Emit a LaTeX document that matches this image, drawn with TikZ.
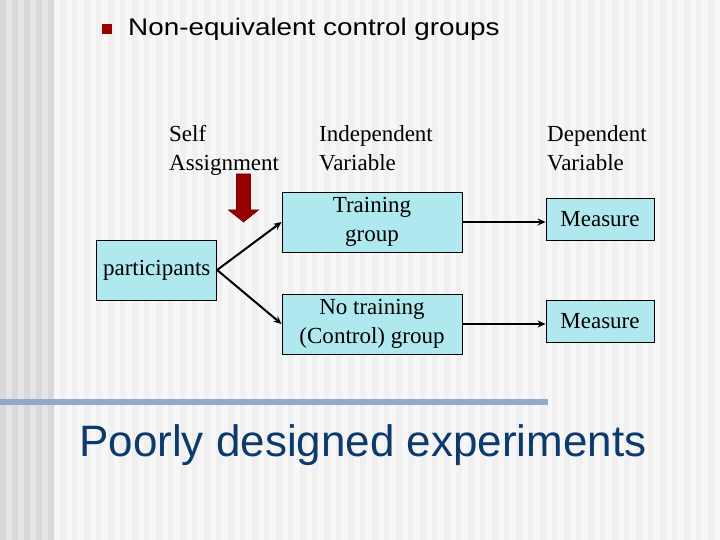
\documentclass[tikz,border=0pt]{standalone}
\usepackage{graphicx}
\usepackage{fontspec}
\setmainfont{Liberation Serif}
\newfontfamily\arialfont{Liberation Sans}
\usetikzlibrary{arrows.meta}
\definecolor{boxcyan}{HTML}{B0E8F0}
\definecolor{darkred}{HTML}{990000}
\definecolor{navy}{HTML}{0D3A6C}
\definecolor{rulecol}{HTML}{92AAC6}
\begin{document}
\begin{tikzpicture}[x=1pt,y=-1pt,>={Stealth[length=8pt,width=7pt]},
	box/.style={draw=black,line width=0.8pt,fill=boxcyan,inner sep=0pt,align=center,font=\fontsize{23}{29}\selectfont},
	head/.style={anchor=north west,inner sep=0pt,align=left,font=\fontsize{23}{29}\selectfont},
	link/.style={->,line width=2pt}]
	\useasboundingbox (0,0) rectangle (720,540);
	% slide background
	\fill[white!94!black] (0,0) rectangle (720,540);
	\foreach \x in {54,66,...,714} \fill[white!97!black] (\x,0) rectangle ++(6,540);
	\foreach \x in {0,12,...,48} \fill[white!85!black] (\x,0) rectangle ++(6,540);
	\foreach \x in {6,18,...,42} \fill[white!90!black] (\x,0) rectangle ++(6,540);
	% title
	\fill[darkred] (102,24) rectangle (112,34);
	\node[anchor=base west,inner sep=0pt,font=\arialfont\fontsize{24}{28}\selectfont] (title) at (128,36) {\scalebox{1.16}[1]{Non-equivalent control groups}};
	% column heads
	\node[head] (self) at (169,125) {Self\\Assignment};
	\node[head] (indep) at (319,125) {Independent\\Variable};
	\node[head] (dep) at (547,125) {Dependent\\Variable};
	% boxes
	\node[box,minimum width=120pt,minimum height=60pt] (part) at (156.7,270) {participants};
	\node[box,minimum width=180pt,minimum height=60pt] (train) at (372,222) {Training\\group};
	\node[box,minimum width=180pt,minimum height=60pt] (notrain) at (372,324) {No training\\(Control) group};
	\node[box,minimum width=108pt,minimum height=42pt] (meas1) at (600,219) {Measure};
	\node[box,minimum width=108pt,minimum height=42pt] (meas2) at (600,321) {Measure};
	% assignment arrow
	\filldraw[fill=darkred,draw=darkred!70!black,line width=0.6pt] (236.5,174) -- (250.5,174) -- (250.5,210) -- (258.5,210) -- (243.5,222) -- (228.5,210) -- (236.5,210) -- cycle;
	% connectors
	\draw[link] (part.east) -- (train.west);
	\draw[link] (part.east) -- (notrain.west);
	\draw[link] (train.east) -- (train.east -| meas1.west);
	\draw[link] (notrain.east) -- (notrain.east -| meas2.west);
	% bottom
	\fill[rulecol] (0,399) rectangle (548,405);
	\node[anchor=base west,inner sep=0pt,font=\arialfont\fontsize{44}{50}\selectfont,text=navy] (verdict) at (79,456) {Poorly designed experiments};
\end{tikzpicture}
\end{document}
